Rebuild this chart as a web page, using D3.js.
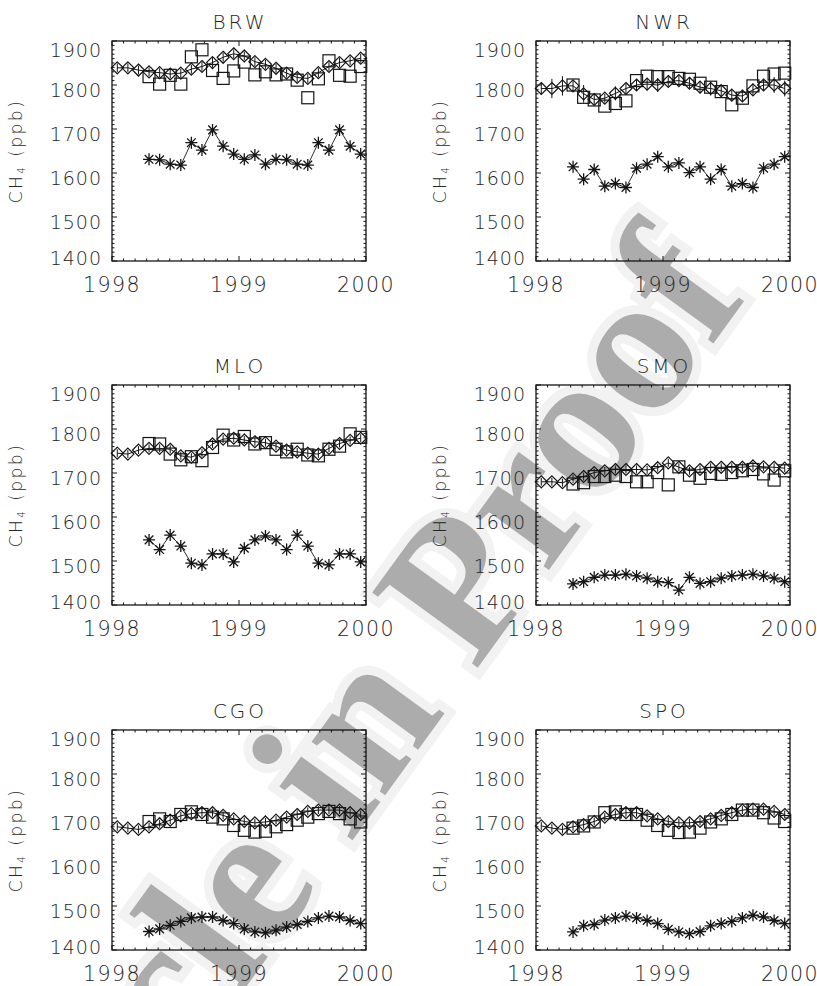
<!DOCTYPE html>
<html>
<head>
<meta charset="utf-8">
<script src="https://cdn.jsdelivr.net/npm/d3@7"></script>
<style>
  body { margin: 0; background: #fff; }
  .lab { font-family: "DejaVu Sans", "Liberation Sans", sans-serif; font-weight: 200; fill: #262626; }
</style>
</head>
<body>
<svg id="chart" width="817" height="986"></svg>
<script>
  // station order, left->right, top->bottom
  var stations = ["BRW", "NWR", "MLO", "SMO", "CGO", "SPO"];
  var yTicks = [1400, 1500, 1600, 1700, 1800, 1900];
  var xTicks = [1998, 1999, 2000];

  // diamonds: Jan 1998 - Dec 1999 (24 months), with error bars
  var brwDiamond = [1839,1839,1834,1830,1828,1825,1827,1836,1842,1851,1863,1871,1866,1853,1847,1838,1827,1817,1815,1828,1842,1851,1855,1861];
  var nwrDiamond = [1792,1792,1798,1798,1780,1767,1770,1781,1792,1800,1802,1800,1808,1810,1804,1795,1792,1787,1777,1775,1789,1800,1800,1792];
  var mloDiamond = [1745,1743,1752,1756,1756,1754,1739,1736,1746,1766,1777,1779,1775,1771,1769,1761,1752,1748,1745,1743,1756,1767,1774,1779];
  var smoDiamond = [1680,1680,1678,1686,1692,1701,1705,1708,1708,1708,1707,1712,1723,1713,1705,1708,1713,1713,1713,1713,1716,1714,1713,1711];
  var cgoDiamond = [1680,1677,1674,1680,1687,1695,1705,1710,1712,1712,1706,1698,1692,1689,1691,1695,1702,1708,1715,1718,1718,1718,1712,1708];
  var spoDiamond = [1682,1677,1674,1680,1685,1692,1702,1708,1712,1712,1705,1698,1692,1689,1689,1692,1698,1706,1712,1718,1720,1720,1715,1708];

  var brwErr = [10,10,10,10,10,10,10,10,10,12,10,10,10,10,10,10,10,10,10,10,10,10,10,10];
  var nwrErr = [14,22,22,12,20,12,10,16,12,12,14,16,12,12,12,14,16,14,14,12,14,12,18,18];
  var mloErr = [9,9,9,9,9,9,9,9,9,9,9,9,9,9,9,9,9,9,9,9,9,9,9,9];
  var smoErr = [9,9,9,9,9,9,9,9,9,9,9,9,9,9,9,9,9,9,9,9,9,9,9,9];
  var cgoErr = [9,9,9,9,9,9,9,9,9,9,9,9,9,9,9,9,9,9,9,9,9,9,9,9];
  var spoErr = [9,9,9,9,9,9,9,9,9,9,9,9,9,9,9,9,9,9,9,9,9,9,9,9];

  // squares: Apr 1998 - Dec 1999 (21 months)
  var brwSquare = [1819,1802,1822,1802,1864,1880,1833,1815,1832,1852,1823,1830,1823,1825,1811,1771,1814,1855,1822,1820,1842];
  var nwrSquare = [1800,1772,1766,1752,1758,1764,1810,1820,1819,1819,1815,1813,1804,1795,1785,1755,1770,1798,1820,1825,1827];
  var mloSquare = [1767,1766,1743,1730,1737,1728,1758,1786,1775,1783,1766,1769,1754,1748,1754,1741,1739,1754,1761,1789,1781];
  var smoSquare = [1675,1678,1692,1692,1695,1692,1680,1680,1701,1673,1714,1695,1688,1699,1697,1701,1705,1708,1698,1684,1705];
  var cgoSquare = [1692,1698,1692,1708,1714,1708,1702,1698,1683,1672,1668,1670,1680,1685,1695,1702,1710,1715,1710,1698,1691];
  var spoSquare = [1677,1682,1691,1712,1714,1708,1708,1695,1683,1672,1667,1668,1677,1691,1698,1708,1718,1718,1712,1700,1692];

  // asterisks: Apr 1998 - Dec 1999 (21 months)
  var brwStar = [1631,1630,1620,1618,1669,1652,1698,1661,1643,1631,1641,1620,1631,1630,1620,1618,1669,1652,1698,1661,1643];
  var nwrStar = [1614,1586,1608,1570,1576,1567,1611,1620,1637,1614,1623,1601,1614,1586,1608,1570,1576,1567,1611,1620,1637];
  var mloStar = [1548,1526,1559,1534,1495,1491,1516,1516,1498,1529,1548,1557,1548,1526,1559,1534,1495,1491,1516,1516,1498];
  var smoStar = [1448,1453,1463,1468,1468,1470,1466,1461,1453,1451,1434,1463,1449,1453,1461,1466,1468,1470,1466,1461,1453];
  var cgoStar = [1442,1448,1456,1465,1473,1475,1475,1467,1460,1448,1441,1439,1445,1452,1458,1465,1473,1477,1475,1467,1460];
  var spoStar = [1441,1455,1458,1468,1473,1477,1473,1467,1460,1447,1441,1437,1442,1455,1460,1465,1473,1479,1475,1467,1460];

  var diamonds = [brwDiamond, nwrDiamond, mloDiamond, smoDiamond, cgoDiamond, spoDiamond];
  var errs = [brwErr, nwrErr, mloErr, smoErr, cgoErr, spoErr];
  var squares = [brwSquare, nwrSquare, mloSquare, smoSquare, cgoSquare, spoSquare];
  var stars = [brwStar, nwrStar, mloStar, smoStar, cgoStar, spoStar];

  // mid-month positions in decimal years
  var months = d3.range(24).map(function(i) { return 1998 + (i + 0.5) / 12; });
  var firstModelMonth = 3;

  var colX = [112, 536], rowY = [41, 385, 730];
  var W = 254, H = 220;
  var ink = "#151515";

  var svg = d3.select("#chart");
  svg.append("rect").attr("width", 817).attr("height", 986).attr("fill", "#fff");

  // watermark behind everything (pale halo + grey letters)
  var wm = svg.append("g").attr("transform", "translate(365,823) rotate(-54)");
  [["#f2f2f2", 18], ["#acacac", 0]].forEach(function(s) {
    wm.append("text")
        .attr("text-anchor", "middle")
        .attr("textLength", 1306)
        .attr("lengthAdjust", "spacingAndGlyphs")
        .style("font-family", "'Liberation Serif', 'Times New Roman', serif")
        .style("font-weight", "bold")
        .style("font-size", "198px")
        .attr("fill", s[0]).attr("stroke", s[1] ? s[0] : "none").attr("stroke-width", s[1])
        .text("Article in Proof");
  });

  var x = d3.scaleLinear().domain([1998, 2000]).range([0, W]);
  var y = d3.scaleLinear().domain([1400, 1900]).range([H, 0]);

  function labelShift(v) {
    if (v == 1900) return 9;
    if (v == 1400) return -3;
    return 5;
  }

  function drawPanel(k) {
    var g = svg.append("g")
        .attr("transform", "translate(" + colX[k % 2] + "," + rowY[Math.floor(k / 2)] + ")");

    // minor + major ticks (inside, all four sides)
    var xMinor = d3.range(0, 23).map(function(i) { return 1998 + i / 11; });
    var yMinor = d3.range(1400, 1901, 10);
    var ticks = g.append("g").attr("stroke", ink).attr("stroke-width", 1);
    xMinor.forEach(function(t) {
      var len = (xTicks.indexOf(Math.round(t * 1000) / 1000) >= 0) ? 5 : 2.5;
      ticks.append("line").attr("x1", x(t)).attr("x2", x(t)).attr("y1", H).attr("y2", H - len);
      ticks.append("line").attr("x1", x(t)).attr("x2", x(t)).attr("y1", 0).attr("y2", len);
    });
    yMinor.forEach(function(v) {
      var len = (v % 100 == 0) ? 5 : 2.5;
      ticks.append("line").attr("x1", 0).attr("x2", len).attr("y1", y(v)).attr("y2", y(v));
      ticks.append("line").attr("x1", W).attr("x2", W - len).attr("y1", y(v)).attr("y2", y(v));
    });

    g.append("rect").attr("width", W).attr("height", H)
        .attr("fill", "none").attr("stroke", ink).attr("stroke-width", 1.3);

    // tick labels
    g.selectAll("text.yl").data(yTicks).enter().append("text")
        .attr("class", "yl lab")
        .attr("x", -10)
        .attr("y", function(d) { return y(d) + labelShift(d) + 7; })
        .attr("text-anchor", "end")
        .style("font-size", "19px")
        .style("letter-spacing", "1px")
        .text(function(d) { return d; });
    g.selectAll("text.xl").data(xTicks).enter().append("text")
        .attr("class", "xl lab")
        .attr("x", function(d) { return x(d); })
        .attr("y", H + 31)
        .attr("text-anchor", "middle")
        .style("font-size", "20.5px")
        .style("letter-spacing", "1.5px")
        .text(function(d) { return d; });

    // title + y label
    g.append("text")
        .attr("class", "lab")
        .attr("x", W / 2 + 1).attr("y", -12)
        .attr("text-anchor", "middle")
        .style("font-size", "20px")
        .style("letter-spacing", "3px")
        .text(stations[k]);
    var yl = g.append("text")
        .attr("class", "lab")
        .attr("transform", "translate(-90," + (H / 2) + ") rotate(-90)")
        .attr("text-anchor", "middle")
        .style("font-size", "17px")
        .style("letter-spacing", "2.5px");
    yl.append("tspan").text("CH");
    yl.append("tspan").attr("dy", 3).style("font-size", "10px").text("4");
    yl.append("tspan").attr("dy", -3).text("\u00a0(ppb)");

    var plot = g.append("g");

    // diamond series: line, error bars, markers
    var dData = diamonds[k].map(function(v, i) { return { t: months[i], v: v, e: errs[k][i] }; });
    plot.append("path").datum(dData)
        .attr("fill", "none").attr("stroke", ink).attr("stroke-width", 1)
        .attr("d", d3.line().x(function(d) { return x(d.t); }).y(function(d) { return y(d.v); }));
    plot.selectAll("line.err").data(dData).enter().append("line")
        .attr("class", "err")
        .attr("x1", function(d) { return x(d.t); }).attr("x2", function(d) { return x(d.t); })
        .attr("y1", function(d) { return y(d.v - d.e); }).attr("y2", function(d) { return y(d.v + d.e); })
        .attr("stroke", ink).attr("stroke-width", 1);
    plot.selectAll("path.dia").data(dData).enter().append("path")
        .attr("class", "dia")
        .attr("transform", function(d) { return "translate(" + x(d.t) + "," + y(d.v) + ")"; })
        .attr("d", "M0,-6L6,0L0,6L-6,0Z")
        .attr("fill", "none").attr("stroke", ink).attr("stroke-width", 1.2);

    // squares
    var sData = squares[k].map(function(v, i) { return { t: months[i + firstModelMonth], v: v }; });
    plot.selectAll("rect.sq").data(sData).enter().append("rect")
        .attr("class", "sq")
        .attr("x", function(d) { return x(d.t) - 6; })
        .attr("y", function(d) { return y(d.v) - 6; })
        .attr("width", 12).attr("height", 12)
        .attr("fill", "none").attr("stroke", ink).attr("stroke-width", 1.2);

    // asterisks joined by a thin line
    var aData = stars[k].map(function(v, i) { return { t: months[i + firstModelMonth], v: v }; });
    plot.append("path").datum(aData)
        .attr("fill", "none").attr("stroke", ink).attr("stroke-width", 0.9)
        .attr("d", d3.line().x(function(d) { return x(d.t); }).y(function(d) { return y(d.v); }));
    plot.selectAll("path.ast").data(aData).enter().append("path")
        .attr("class", "ast")
        .attr("transform", function(d) { return "translate(" + x(d.t) + "," + y(d.v) + ")"; })
        .attr("d", "M-6,0L6,0M0,-6L0,6M-4.3,-4.3L4.3,4.3M-4.3,4.3L4.3,-4.3")
        .attr("fill", "none").attr("stroke", ink).attr("stroke-width", 1.3);
  }

  stations.forEach(function(s, k) { drawPanel(k); });
</script>
</body>
</html>
